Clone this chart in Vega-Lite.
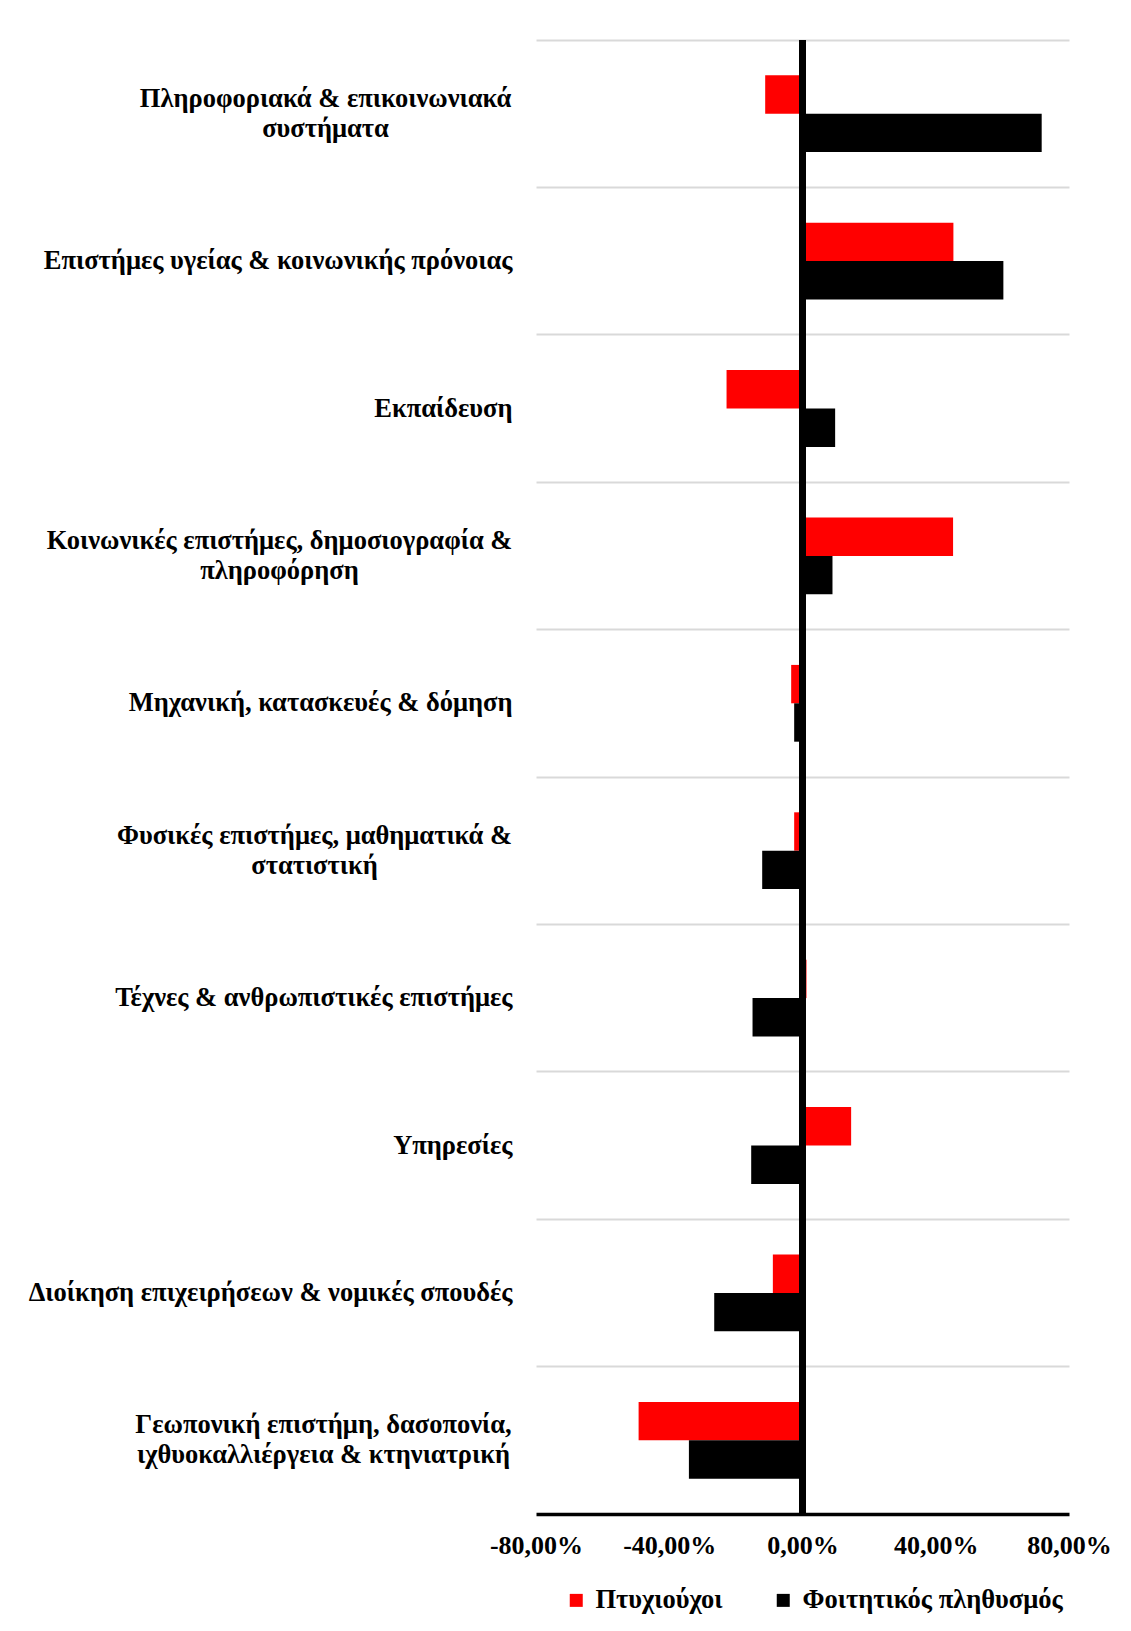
{
  "$schema": "https://vega.github.io/schema/vega-lite/v6.json",
  "width": 533,
  "height": 1474,
  "autosize": {"type": "none"},
  "padding": {"left": 536, "top": 40, "right": 62, "bottom": 117},
  "background": "white",
  "config": {
    "view": {"stroke": null},
    "font": "Liberation Serif",
    "locale": {"number": {"decimal": ",", "thousands": ".", "grouping": [3], "currency": ["", " €"], "minus": "-"}}
  },
  "data": {
    "values": [
      {"field": "Πληροφοριακά & επικοινωνιακά\nσυστήματα", "group": "Πτυχιούχοι", "value": -0.112},
      {"field": "Πληροφοριακά & επικοινωνιακά\nσυστήματα", "group": "Φοιτητικός πληθυσμός", "value": 0.718},
      {"field": "Επιστήμες υγείας & κοινωνικής πρόνοιας", "group": "Πτυχιούχοι", "value": 0.453},
      {"field": "Επιστήμες υγείας & κοινωνικής πρόνοιας", "group": "Φοιτητικός πληθυσμός", "value": 0.603},
      {"field": "Εκπαίδευση", "group": "Πτυχιούχοι", "value": -0.228},
      {"field": "Εκπαίδευση", "group": "Φοιτητικός πληθυσμός", "value": 0.098},
      {"field": "Κοινωνικές επιστήμες, δημοσιογραφία &\nπληροφόρηση", "group": "Πτυχιούχοι", "value": 0.452},
      {"field": "Κοινωνικές επιστήμες, δημοσιογραφία &\nπληροφόρηση", "group": "Φοιτητικός πληθυσμός", "value": 0.09},
      {"field": "Μηχανική, κατασκευές & δόμηση", "group": "Πτυχιούχοι", "value": -0.034},
      {"field": "Μηχανική, κατασκευές & δόμηση", "group": "Φοιτητικός πληθυσμός", "value": -0.025},
      {"field": "Φυσικές επιστήμες, μαθηματικά &\nστατιστική", "group": "Πτυχιούχοι", "value": -0.025},
      {"field": "Φυσικές επιστήμες, μαθηματικά &\nστατιστική", "group": "Φοιτητικός πληθυσμός", "value": -0.121},
      {"field": "Τέχνες & ανθρωπιστικές επιστήμες", "group": "Πτυχιούχοι", "value": 0.012},
      {"field": "Τέχνες & ανθρωπιστικές επιστήμες", "group": "Φοιτητικός πληθυσμός", "value": -0.15},
      {"field": "Υπηρεσίες", "group": "Πτυχιούχοι", "value": 0.146},
      {"field": "Υπηρεσίες", "group": "Φοιτητικός πληθυσμός", "value": -0.154},
      {"field": "Διοίκηση επιχειρήσεων & νομικές σπουδές", "group": "Πτυχιούχοι", "value": -0.089},
      {"field": "Διοίκηση επιχειρήσεων & νομικές σπουδές", "group": "Φοιτητικός πληθυσμός", "value": -0.265},
      {"field": "Γεωπονική επιστήμη, δασοπονία,\nιχθυοκαλλιέργεια & κτηνιατρική", "group": "Πτυχιούχοι", "value": -0.492},
      {"field": "Γεωπονική επιστήμη, δασοπονία,\nιχθυοκαλλιέργεια & κτηνιατρική", "group": "Φοιτητικός πληθυσμός", "value": -0.341}
    ]
  },
  "layer": [
    {
      "mark": {"type": "bar"},
      "encoding": {
        "y": {
          "field": "field",
          "type": "nominal",
          "sort": null,
          "scale": {"paddingInner": 0, "paddingOuter": 0},
          "axis": {
            "title": null,
            "domain": false,
            "ticks": false,
            "tickSize": 0,
            "grid": true,
            "gridColor": "#d9d9d9",
            "gridWidth": 2,
            "bandPosition": 0,
            "labelFont": "Liberation Serif",
            "labelFontWeight": "bold",
            "labelFontSize": 26.5,
            "labelColor": "black",
            "labelPadding": 24,
            "labelLimit": 0,
            "labelLineHeight": 30,
            "labelExpr": "split(datum.value, '\\n')",
            "labelAlign": {"condition": {"test": "indexof(datum.value, '\\n') >= 0", "value": "center"}, "value": "right"},
            "encoding": {
              "labels": {
                "dx": {
                  "condition": [
                    {"test": "indexof(datum.value, 'Πληροφοριακά') == 0", "value": -187},
                    {"test": "indexof(datum.value, 'Κοινωνικές') == 0", "value": -233},
                    {"test": "indexof(datum.value, 'Φυσικές') == 0", "value": -198},
                    {"test": "indexof(datum.value, 'Γεωπονική') == 0", "value": -189}
                  ],
                  "value": 0
                },
                "dy": {
                  "condition": {"test": "indexof(datum.value, '\\n') >= 0", "value": -15},
                  "value": 0
                }
              }
            }
          }
        },
        "yOffset": {
          "field": "group",
          "type": "nominal",
          "sort": ["Πτυχιούχοι", "Φοιτητικός πληθυσμός"],
          "scale": {"paddingInner": 0, "paddingOuter": 0.92}
        },
        "x": {
          "field": "value",
          "type": "quantitative",
          "scale": {"domain": [-0.8, 0.8], "nice": false},
          "axis": {
            "title": null,
            "values": [-0.8, -0.4, 0, 0.4, 0.8],
            "format": ".2%",
            "grid": false,
            "ticks": false,
            "tickSize": 0,
            "domainColor": "black",
            "domainWidth": 3.5,
            "labelFont": "Liberation Serif",
            "labelFontWeight": "bold",
            "labelFontSize": 26,
            "labelColor": "black",
            "labelPadding": 18,
            "labelFlush": false,
            "labelOverlap": false
          }
        },
        "color": {
          "field": "group",
          "type": "nominal",
          "scale": {"domain": ["Πτυχιούχοι", "Φοιτητικός πληθυσμός"], "range": ["#ff0000", "#000000"]},
          "legend": {
            "title": null,
            "orient": "none",
            "legendX": 27,
            "legendY": 1547,
            "direction": "horizontal",
            "symbolType": "square",
            "symbolSize": 169,
            "symbolStrokeWidth": 0,
            "labelFont": "Liberation Serif",
            "labelFontWeight": "bold",
            "labelFontSize": 26.5,
            "labelColor": "black",
            "labelOffset": 6,
            "columnPadding": 47,
            "labelLimit": 0
          }
        }
      }
    },
    {
      "mark": {"type": "rule", "color": "black", "strokeWidth": 6},
      "encoding": {"x": {"datum": 0}}
    }
  ]
}
